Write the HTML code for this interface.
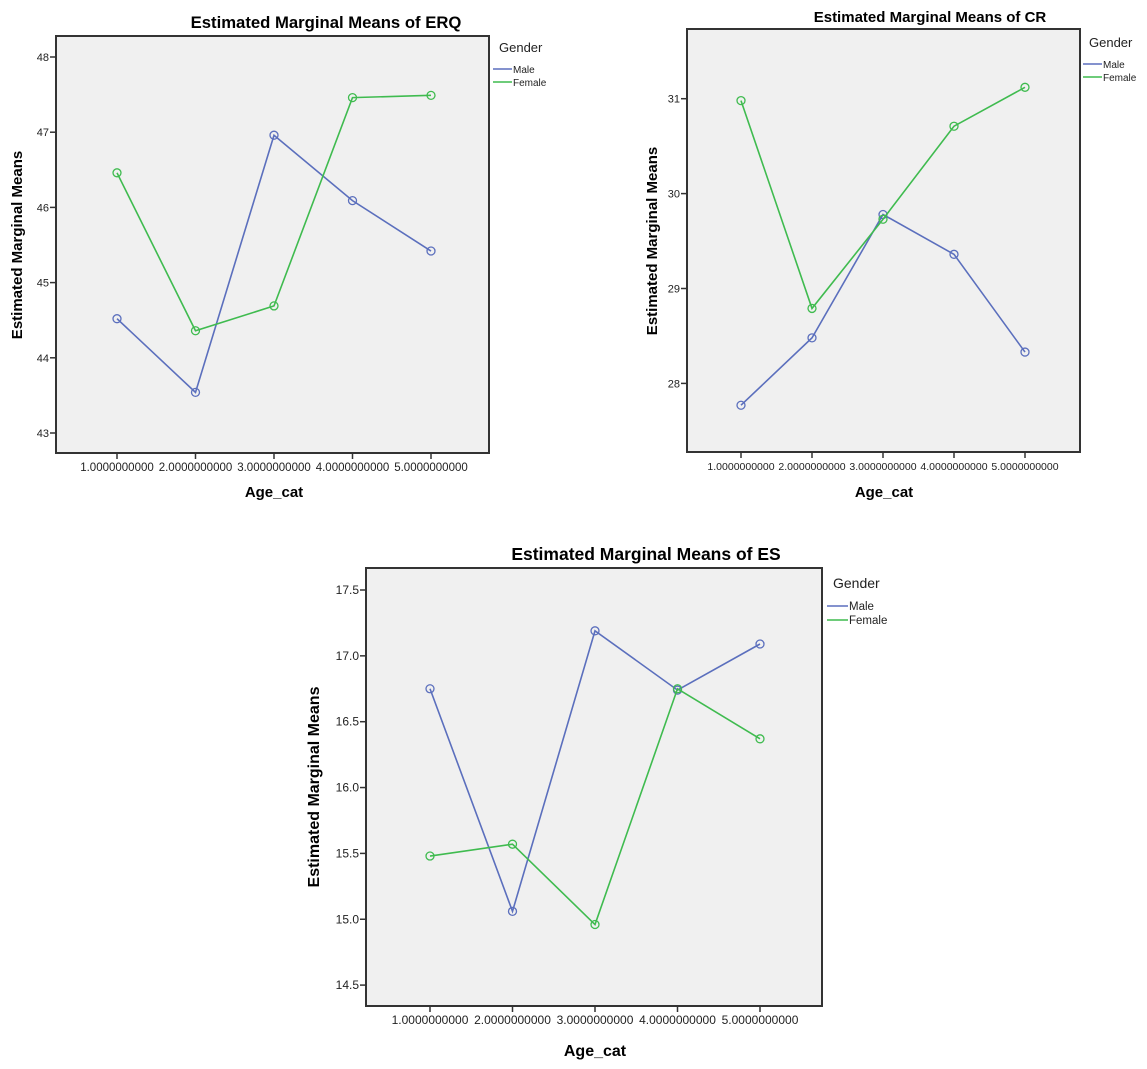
<!DOCTYPE html>
<html><head><meta charset="utf-8">
<style>
html,body{margin:0;padding:0;background:#fff;}
svg{display:block;font-family:"Liberation Sans",Arial,sans-serif;}
</style></head>
<body>
<svg id="root" width="1147" height="1069" viewBox="0 0 1147 1069"></svg>
<script>
// ---- data ----
const categories = ["1.0000000000","2.0000000000","3.0000000000","4.0000000000","5.0000000000"];
const erqMale   = [44.52, 43.54, 46.96, 46.09, 45.42];
const erqFemale = [46.46, 44.36, 44.69, 47.46, 47.49];
const erqTicks  = [43, 44, 45, 46, 47, 48];
const crMale    = [27.77, 28.48, 29.78, 29.36, 28.33];
const crFemale  = [30.98, 28.79, 29.73, 30.71, 31.12];
const crTicks   = [28, 29, 30, 31];
const esMale    = [16.75, 15.06, 17.19, 16.74, 17.09];
const esFemale  = [15.48, 15.57, 14.96, 16.75, 16.37];
const esTicks   = ["14.5","15.0","15.5","16.0","16.5","17.0","17.5"];

const NS = "http://www.w3.org/2000/svg";
const root = document.getElementById("root");
const MALE = "#5b6fbd", FEMALE = "#3fbb4f";

function mk(tag, attrs, parent){
  const e = document.createElementNS(NS, tag);
  for (const k in attrs) e.setAttribute(k, attrs[k]);
  (parent||root).appendChild(e);
  return e;
}

function drawChart(c){
  const g = mk("g", {});
  
  
  const t = mk("text", {x:c.titleX, y:c.titleY, "text-anchor":"middle", "font-size":c.titleSize, "font-weight":"bold", fill:"#000"}, g);
  t.textContent = c.title;
  
  
  const fr = mk("rect", {x:c.L, y:c.T, width:c.R-c.L, height:c.B-c.T, fill:"#f0f0f0", stroke:"#333", "stroke-width":2}, g);
  
  
  const xs = i => c.x0 + i*c.dx;
  const ys = v => c.yRef - (v - c.vRef)*c.py;
  c.ticks.forEach(tv => {
    const y = ys(parseFloat(tv));
    const tl = mk("line", {x1:c.L-6, x2:c.L, y1:y, y2:y, stroke:"#333", "stroke-width":1.5}, g);
    
    
    const tx = mk("text", {x:c.L-7, y:y+4, "text-anchor":"end", "font-size":c.yTickSize, fill:"#222"}, g);
    tx.textContent = tv;
    
    
  });
  categories.forEach((cat, i) => {
    const x = xs(i);
    const tl = mk("line", {x1:x, x2:x, y1:c.B, y2:c.B+6, stroke:"#333", "stroke-width":1.5}, g);
    
    
    const tx = mk("text", {x:x, y:c.B+18, "text-anchor":"middle", "font-size":c.tickSize, fill:"#222"}, g);
    tx.textContent = cat;
    
    
  });
  const xt = mk("text", {x:c.xTitleX, y:c.xTitleY, "text-anchor":"middle", "font-size":c.axisSize, "font-weight":"bold", fill:"#000"}, g);
  xt.textContent = "Age_cat";
  
  
  const yt = mk("text", {x:0, y:0, "text-anchor":"middle", "font-size":c.axisSize, "font-weight":"bold", fill:"#000", transform:"translate("+c.yTitleX+","+c.yTitleY+") rotate(-90)"}, g);
  yt.textContent = "Estimated Marginal Means";
  
  
  [[c.male, MALE, "male"], [c.female, FEMALE, "female"]].forEach(([vals, col, nm]) => {
    const pts = vals.map((v,i) => xs(i) + "," + ys(v)).join(" ");
    const pl = mk("polyline", {points:pts, fill:"none", stroke:col, "stroke-width":1.6}, g);
    
    
    vals.forEach((v,i) => {
      const ci = mk("circle", {cx:xs(i), cy:ys(v), r:4, fill:"none", stroke:col, "stroke-width":1.3}, g);
      
      
    });
  });
  const lg = mk("text", {x:c.legX+6, y:c.legY, "font-size":c.legTitleSize, fill:"#222"}, g);
  lg.textContent = "Gender";
  
  
  [["Male", MALE], ["Female", FEMALE]].forEach(([lab, col], k) => {
    const y = c.legY + c.legGap*(k+1) + 4;
    const ll = mk("line", {x1:c.legX, x2:c.legX+c.legLen, y1:y, y2:y, stroke:col, "stroke-width":1.6}, g);
    
    
    const lt = mk("text", {x:c.legX+c.legLen+1, y:y+4, "font-size":c.legSize, fill:"#222"}, g);
    lt.textContent = lab;
    
    
  });
}

drawChart({id:"erq", title:"Estimated Marginal Means of ERQ", titleX:326, titleY:28, titleSize:16.7,
  L:56, R:489, T:36, B:453, x0:117, dx:78.5, yRef:57, vRef:48, py:75.2,
  ticks:erqTicks, male:erqMale, female:erqFemale, tickSize:11.5, yTickSize:11, axisSize:15,
  xTitleX:274, xTitleY:497, yTitleX:22, yTitleY:245,
  legX:493, legY:52, legGap:13, legLen:19, legTitleSize:13, legSize:10});

drawChart({id:"cr", title:"Estimated Marginal Means of CR", titleX:930, titleY:22, titleSize:15,
  L:687, R:1080, T:29, B:452, x0:741, dx:71, yRef:98.7, vRef:31, py:94.9,
  ticks:crTicks, male:crMale, female:crFemale, tickSize:10.5, yTickSize:11, axisSize:15,
  xTitleX:884, xTitleY:497, yTitleX:657, yTitleY:241,
  legX:1083, legY:47, legGap:13, legLen:19, legTitleSize:13, legSize:10});

drawChart({id:"es", title:"Estimated Marginal Means of ES", titleX:646, titleY:560, titleSize:17.5,
  L:366, R:822, T:568, B:1006, x0:430, dx:82.5, yRef:590, vRef:17.5, py:131.7,
  ticks:esTicks, male:esMale, female:esFemale, tickSize:12, yTickSize:12, axisSize:16,
  xTitleX:595, xTitleY:1056, yTitleX:319, yTitleY:787,
  legX:827, legY:588, legGap:14, legLen:21, legTitleSize:14, legSize:11.5});
</script>
</body></html>
